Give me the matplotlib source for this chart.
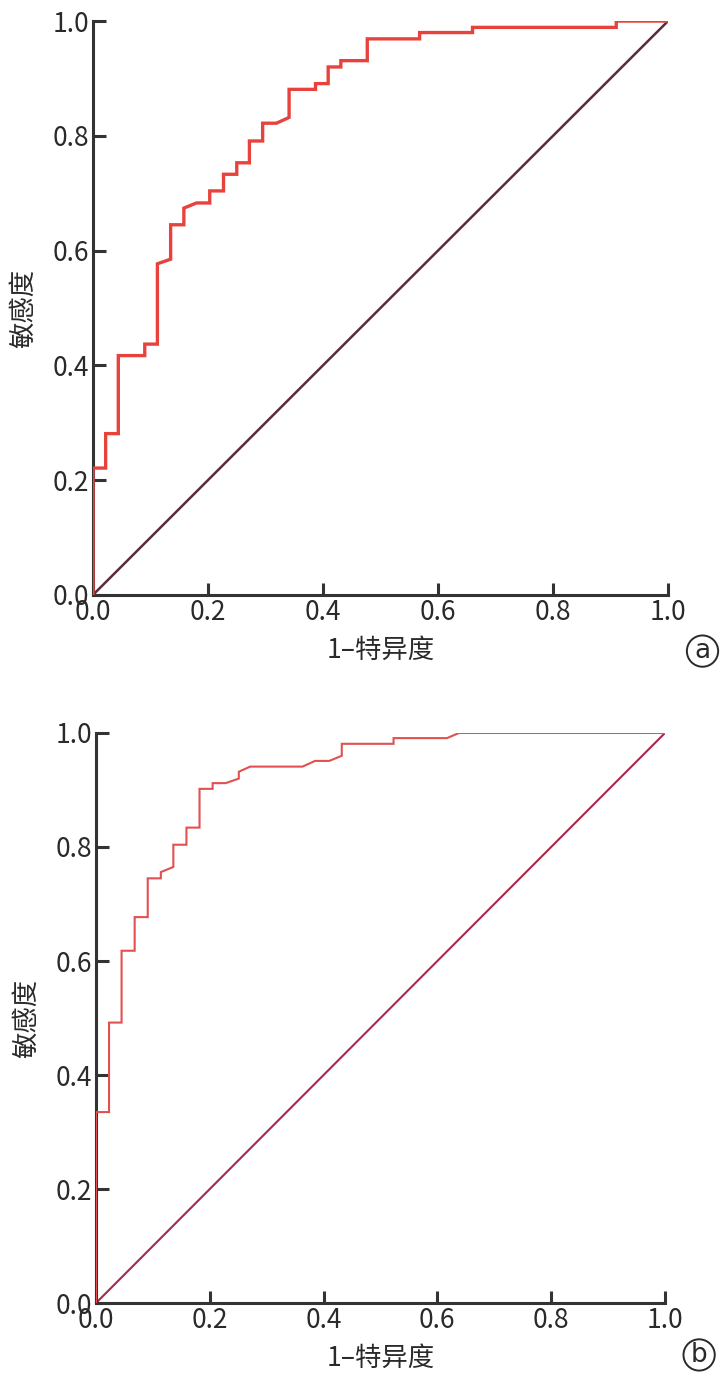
import numpy as np
import matplotlib.pyplot as plt

plt.rcParams['font.family'] = ['Noto Sans CJK SC', 'DejaVu Sans']

# ROC curve (a): 1-specificity vs sensitivity
fpr_a = [0.0, 0.0, 0.022, 0.022, 0.044, 0.044, 0.090, 0.090, 0.112, 0.112,
         0.135, 0.135, 0.158, 0.158, 0.180, 0.203, 0.203, 0.227, 0.227,
         0.250, 0.250, 0.272, 0.272, 0.295, 0.295, 0.319, 0.341, 0.341,
         0.387, 0.387, 0.409, 0.409, 0.431, 0.431, 0.477, 0.477, 0.568,
         0.568, 0.660, 0.660, 0.910, 0.910, 1.0]
tpr_a = [0.0, 0.221, 0.221, 0.281, 0.281, 0.417, 0.417, 0.437, 0.437, 0.577,
         0.585, 0.645, 0.645, 0.674, 0.683, 0.683, 0.704, 0.704, 0.733,
         0.733, 0.753, 0.753, 0.791, 0.791, 0.822, 0.822, 0.832, 0.881,
         0.881, 0.891, 0.891, 0.920, 0.920, 0.931, 0.931, 0.969, 0.969,
         0.980, 0.980, 0.989, 0.989, 1.0, 1.0]

# ROC curve (b)
fpr_b = [0.0, 0.0, 0.023, 0.023, 0.045, 0.045, 0.068, 0.068, 0.091, 0.091,
         0.114, 0.114, 0.136, 0.136, 0.159, 0.159, 0.182, 0.182, 0.205,
         0.205, 0.228, 0.251, 0.251, 0.271, 0.363, 0.385, 0.410, 0.432,
         0.432, 0.523, 0.523, 0.617, 0.638, 1.0]
tpr_b = [0.0, 0.335, 0.335, 0.492, 0.492, 0.618, 0.618, 0.677, 0.677, 0.745,
         0.745, 0.756, 0.765, 0.804, 0.804, 0.834, 0.834, 0.902, 0.902,
         0.912, 0.912, 0.920, 0.932, 0.941, 0.941, 0.951, 0.951, 0.960,
         0.981, 0.981, 0.991, 0.991, 1.0, 1.0]

ticks = [0.0, 0.2, 0.4, 0.6, 0.8, 1.0]
tick_labels = ['0.0', '0.2', '0.4', '0.6', '0.8', '1.0']

fig = plt.figure(figsize=(7.21, 13.77), dpi=100)
ax_a = fig.add_axes([0.129, 0.568, 0.7975, 0.4167])
ax_b = fig.add_axes([0.1331, 0.0537, 0.7892, 0.414])

panels = [
    (ax_a, fpr_a, tpr_a, '#e8423c', 2.4, '#5b2b3b', 1.8, 'a', -0.098),
    (ax_b, fpr_b, tpr_b, '#e2504f', 1.5, '#a8294a', 1.5, 'b', -0.091),
]

for ax, fx, ty, col, lw, dcol, dlw, tag, tag_y in panels:
    ax.plot([0, 1], [0, 1], color=dcol, lw=dlw, zorder=2)
    ax.plot(fx, ty, color=col, lw=lw, zorder=3, solid_joinstyle='miter')
    ax.set_xlim(0, 1)
    ax.set_ylim(0, 1)
    for s in ['top', 'right']:
        ax.spines[s].set_visible(False)
    for s in ['left', 'bottom']:
        ax.spines[s].set_linewidth(2.2)
        ax.spines[s].set_color('#333333')
    ax.set_xticks(ticks)
    ax.set_xticklabels(tick_labels)
    ax.set_yticks(ticks)
    ax.set_yticklabels(tick_labels)
    ax.tick_params(direction='in', length=9, width=2.2, color='#333333',
                   labelsize=19, labelcolor='#2a2a2a', pad=3)
    ax.set_xlabel('1–特异度', fontsize=19, color='#2a2a2a', labelpad=8)
    ax.set_ylabel('敏感度', fontsize=19, color='#2a2a2a', labelpad=11)
    ax.text(1.06, tag_y, tag, transform=ax.transAxes, fontsize=19,
            ha='center', va='center', color='#2a2a2a',
            family=['DejaVu Sans'],
            bbox=dict(boxstyle='circle,pad=0.1', fc='white', ec='#2a2a2a', lw=1.4))

fig.savefig('out.png', dpi=100)
